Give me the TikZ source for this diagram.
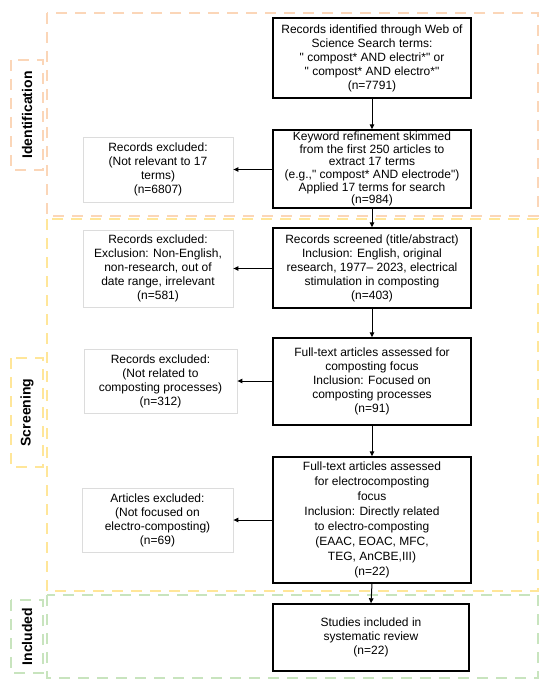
\documentclass[tikz,border=0pt]{standalone}
\usepackage{fontspec}
\newfontfamily\af{Liberation Sans}
\usetikzlibrary{arrows.meta}
\definecolor{idc}{RGB}{251,214,184}
\definecolor{scc}{RGB}{255,230,153}
\definecolor{inc}{RGB}{200,228,190}
\definecolor{lgray}{RGB}{220,220,220}
\tikzset{
  px/.style={x=1pt,y=-1pt},
  region/.style={dash pattern=on 11pt off 8pt, line width=2pt},
  mainbox/.style={draw=black, line width=1.4pt, align=center, inner sep=0pt, font=\af\fontsize{12}{14}\selectfont},
  sidebox/.style={draw=lgray, line width=0.8pt, align=center, inner sep=0pt, font=\af\fontsize{12}{14}\selectfont},
  lab/.style={rotate=90, font=\af\fontsize{14}{16}\selectfont\bfseries},
  arr/.style={-{Triangle[length=5pt,width=4.5pt]}, line width=1pt}
}
\begin{document}
\begin{tikzpicture}[px]
\useasboundingbox (0,0) rectangle (550,690);
% regions
\draw[region, idc] (47,13) rectangle (538,216);
\draw[region, scc] (47,219) rectangle (538,591);
\draw[region, inc] (47,595) rectangle (538,678);
\draw[region, idc] (11,60) rectangle (43,170);
\draw[region, scc] (11,358) rectangle (43,467);
\draw[region, inc] (11,600) rectangle (43,673);
\node[lab] (lid) at (27,115) {Identification};
\node[lab] (lsc) at (27,412.5) {Screening};
\node[lab] (lin) at (27,636.5) {Included};
% main boxes
\node[mainbox, minimum width=198pt, minimum height=80pt] (b1) at (372,58) {Records identified through Web of\\Science Search terms:\\" compost* AND electri*" or\\" compost* AND electro*"\\(n=7791)};
\node[mainbox, minimum width=198pt, minimum height=78pt, font=\af\fontsize{12}{12.6}\selectfont] (b2) at (372,169) {Keyword refinement skimmed\\from the first 250 articles to\\extract 17 terms\\(e.g.," compost* AND electrode")\\Applied 17 terms for search\\(n=984)};
\node[mainbox, minimum width=198pt, minimum height=80pt] (b3) at (372,268) {Records screened (title/abstract)\\Inclusion: English, original\\research, 1977– 2023, electrical\\stimulation in composting\\(n=403)};
\node[mainbox, minimum width=198pt, minimum height=87pt] (b4) at (372,381.5) {Full-text articles assessed for\\composting focus\\Inclusion: Focused on\\composting processes\\(n=91)};
\node[mainbox, minimum width=198pt, minimum height=126pt, font=\af\fontsize{12}{15}\selectfont] (b5) at (372,520) {Full-text articles assessed\\for electrocomposting\\focus\\Inclusion: Directly related\\to electro-composting\\(EAAC, EOAC, MFC,\\TEG, AnCBE,III)\\(n=22)};
\node[mainbox, minimum width=196pt, minimum height=67pt] (b6) at (371,637.5) {Studies included in\\systematic review\\(n=22)};
% side boxes
\node[sidebox, minimum width=150pt, minimum height=65pt] (s1) at (158,169.5) {Records excluded:\\(Not relevant to 17\\terms)\\(n=6807)};
\node[sidebox, minimum width=150pt, minimum height=77pt] (s2) at (158,268.5) {Records excluded:\\Exclusion: Non-English,\\non-research, out of\\date range, irrelevant\\(n=581)};
\node[sidebox, minimum width=153pt, minimum height=64pt] (s3) at (160.5,381) {Records excluded:\\(Not related to\\composting processes)\\(n=312)};
\node[sidebox, minimum width=151pt, minimum height=64pt] (s4) at (157.5,520) {Articles excluded:\\(Not focused on\\electro-composting)\\(n=69)};
% arrows down
\draw[arr] (b1.south) -- (b2.north);
\draw[arr] (b2.south) -- (b3.north);
\draw[arr] (b3.south) -- (b4.north);
\draw[arr] (b4.south) -- (b5.north);
\draw[arr] (b5.south) -- (b6.north);
% arrows left
\draw[arr] (b2.west |- s1.east) -- (s1.east);
\draw[arr] (b3.west |- s2.east) -- (s2.east);
\draw[arr] (b4.west |- s3.east) -- (s3.east);
\draw[arr] (b5.west |- s4.east) -- (s4.east);
\end{tikzpicture}
\end{document}
